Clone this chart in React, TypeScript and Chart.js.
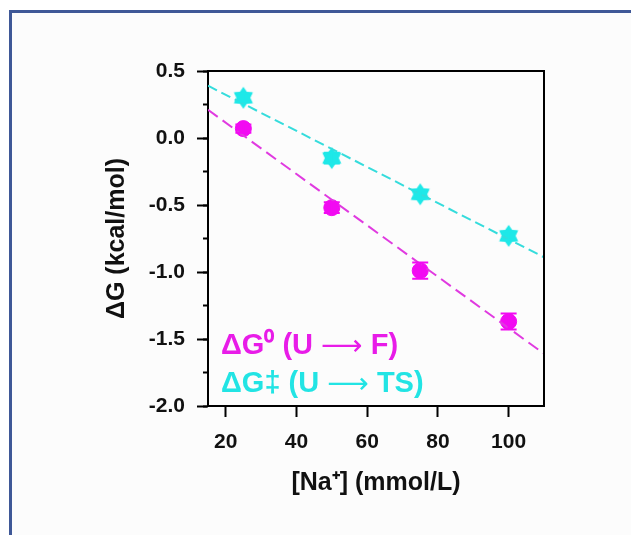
import React, { useEffect, useRef } from "react";
import { Chart, registerables } from "chart.js";

Chart.register(...registerables);

// ---- data ----
const naConc = [25, 50, 75, 100];
const dG0 = [0.07, -0.52, -0.99, -1.37];
const dG0Err = [0.03, 0.04, 0.06, 0.06];
const dGts = [0.3, -0.15, -0.42, -0.73];
const dGtsErr = [0.03, 0.04, 0.03, 0.03];
const fitX = [15, 110];
const fitG0 = [0.21, -1.61];
const fitGts = [0.39, -0.89];
const xTicksRange = { min: 15, max: 110, step: 20 };
const yTicksRange = { min: -2, max: 0.5, step: 0.5, minorStep: 0.25 };
// legend parts: [before arrow, arrow, after arrow]
const legend0 = ["ΔG⁰ (U ", "⟶", " F)"];
const legend1 = ["ΔG‡ (U ", "⟶", " TS)"];
const xTitle = "[Na⁺] (mmol/L)";
const yTitle = "ΔG (kcal/mol)";

const MAGENTA = "#f20af2";
const MAGENTA_LINE = "#e03ae0";
const CYAN = "#1ee8e8";
const CYAN_LINE = "#35dcdc";
const FONT = "'Liberation Sans', Arial, sans-serif";

function makeStar(color: string) {
  const c = document.createElement("canvas");
  c.width = 24;
  c.height = 24;
  const ctx = c.getContext("2d")!;
  ctx.fillStyle = color;
  ctx.beginPath();
  const n = 6, R = 11, r = 7;
  for (let i = 0; i < n * 2; i++) {
    const a = -Math.PI / 2 + (i * Math.PI) / n;
    const rad = i % 2 === 0 ? R : r;
    const x = 12 + rad * Math.cos(a);
    const y = 12 + rad * Math.sin(a);
    if (i === 0) ctx.moveTo(x, y);
    else ctx.lineTo(x, y);
  }
  ctx.closePath();
  ctx.fill();
  return c;
}

const framePlugin = {
  id: "frame",
  afterDraw(chart: any) {
    const { ctx, chartArea } = chart;
    ctx.save();
    ctx.strokeStyle = "#000";
    ctx.lineWidth = 2;
    ctx.beginPath();
    ctx.moveTo(chartArea.left, chartArea.top);
    ctx.lineTo(chartArea.right, chartArea.top);
    ctx.lineTo(chartArea.right, chartArea.bottom);
    ctx.stroke();
    ctx.restore();
  },
};

const errorBarPlugin = {
  id: "errorBars",
  afterDatasetsDraw(chart: any) {
    const { ctx, scales } = chart;
    const sets = [
      { ys: dG0, es: dG0Err, color: MAGENTA },
      { ys: dGts, es: dGtsErr, color: CYAN },
    ];
    ctx.save();
    ctx.lineWidth = 2;
    sets.forEach((s) => {
      ctx.strokeStyle = s.color;
      naConc.forEach((xv, i) => {
        const x = scales.x.getPixelForValue(xv);
        const y1 = scales.y.getPixelForValue(s.ys[i] + s.es[i]);
        const y2 = scales.y.getPixelForValue(s.ys[i] - s.es[i]);
        ctx.beginPath();
        ctx.moveTo(x, y1);
        ctx.lineTo(x, y2);
        ctx.moveTo(x - 8, y1);
        ctx.lineTo(x + 8, y1);
        ctx.moveTo(x - 8, y2);
        ctx.lineTo(x + 8, y2);
        ctx.stroke();
      });
    });
    ctx.restore();
  },
};

function drawLegendLine(ctx: CanvasRenderingContext2D, parts: string[], x: number, y: number, color: string) {
  ctx.fillStyle = color;
  const mainFont = `bold 29px ${FONT}`;
  const arrowFont = `normal 29px 'DejaVu Sans', sans-serif`;
  ctx.font = mainFont;
  ctx.fillText(parts[0], x, y);
  let cx = x + ctx.measureText(parts[0]).width;
  ctx.font = arrowFont;
  ctx.fillText(parts[1], cx, y + 1);
  cx += ctx.measureText(parts[1]).width;
  ctx.font = mainFont;
  ctx.fillText(parts[2], cx, y);
}

const legendPlugin = {
  id: "customLegend",
  afterDraw(chart: any) {
    const { ctx, chartArea } = chart;
    ctx.save();
    ctx.textBaseline = "middle";
    ctx.textAlign = "left";
    drawLegendLine(ctx, legend0, chartArea.left + 13, chartArea.bottom - 60, "#e81ce8");
    drawLegendLine(ctx, legend1, chartArea.left + 13, chartArea.bottom - 22, "#22e4e4");
    ctx.restore();
  },
};

export default function App() {
  const ref = useRef<HTMLCanvasElement>(null);
  useEffect(() => {
    const star = makeStar(CYAN);
    const tickFont = { family: FONT, size: 21, weight: "bold" as const };
    const titleFont = { family: FONT, size: 25, weight: "bold" as const };
    const chart = new Chart(ref.current!, {
      type: "scatter",
      data: {
        datasets: [
          {
            type: "line",
            data: fitX.map((x, i) => ({ x, y: fitG0[i] })),
            borderColor: MAGENTA_LINE,
            borderWidth: 2,
            borderDash: [12, 6],
            pointRadius: 0,
            fill: false,
          },
          {
            type: "line",
            data: fitX.map((x, i) => ({ x, y: fitGts[i] })),
            borderColor: CYAN_LINE,
            borderWidth: 2,
            borderDash: [10, 5],
            pointRadius: 0,
            fill: false,
          },
          {
            data: naConc.map((x, i) => ({ x, y: dG0[i] })),
            backgroundColor: MAGENTA,
            borderColor: MAGENTA,
            pointRadius: 8,
            pointStyle: "circle",
          },
          {
            data: naConc.map((x, i) => ({ x, y: dGts[i] })),
            backgroundColor: CYAN,
            borderColor: CYAN,
            pointStyle: star as any,
            pointRadius: 11,
          },
        ],
      },
      options: {
        animation: false,
        responsive: false,
        devicePixelRatio: 1,
        layout: { padding: { left: 100, top: 71, right: 87, bottom: 20 } },
        plugins: { legend: { display: false }, tooltip: { enabled: false } },
        scales: {
          x: {
            type: "linear",
            min: xTicksRange.min,
            max: xTicksRange.max,
            ticks: {
              stepSize: xTicksRange.step,
              includeBounds: false,
              font: tickFont,
              color: "#111",
              padding: 13,
              maxRotation: 0,
            },
            grid: {
              drawOnChartArea: false,
              tickLength: 11,
              tickWidth: 2,
              tickColor: "#000",
            },
            border: { color: "#000", width: 2 },
            title: {
              display: true,
              text: xTitle,
              font: titleFont,
              color: "#111",
              padding: { top: 0, bottom: 17 },
            },
            afterFit: (s: any) => {
              s.height = 109;
            },
          },
          y: {
            type: "linear",
            position: "left",
            weight: 1,
            min: yTicksRange.min,
            max: yTicksRange.max,
            ticks: {
              stepSize: yTicksRange.step,
              includeBounds: false,
              font: tickFont,
              color: "#111",
              padding: 12,
              callback: (v: any) => Number(v).toFixed(1),
            },
            grid: {
              drawOnChartArea: false,
              tickLength: 11,
              tickWidth: 2,
              tickColor: "#000",
            },
            border: { color: "#000", width: 2 },
            title: {
              display: true,
              text: yTitle,
              font: titleFont,
              color: "#111",
              padding: { top: 2, bottom: 0 },
            },
            afterFit: (s: any) => {
              s.width = 108;
            },
          },
          yMinor: {
            type: "linear",
            position: "left",
            weight: 0,
            min: yTicksRange.min,
            max: yTicksRange.max,
            ticks: { stepSize: yTicksRange.minorStep, display: false },
            grid: {
              drawOnChartArea: false,
              tickLength: 5,
              tickWidth: 2,
              tickColor: "#000",
            },
            border: { display: false },
            afterFit: (s: any) => {
              s.width = 0;
            },
          },
        },
      },
      plugins: [errorBarPlugin, framePlugin, legendPlugin],
    });
    return () => chart.destroy();
  }, []);

  return (
    <div style={{ position: "fixed", left: 0, top: 0, width: 631, height: 535, background: "#fff" }}>
      <div
        style={{
          position: "absolute",
          left: 9,
          top: 10,
          right: 0,
          bottom: 0,
          borderLeft: "3px solid #3f5897",
          borderTop: "3px solid #3f5897",
          background: "#fcfcfc",
        }}
      />
      <canvas
        ref={ref}
        width={631}
        height={535}
        style={{ position: "absolute", left: 0, top: 0, width: 631, height: 535 }}
      />
    </div>
  );
}
